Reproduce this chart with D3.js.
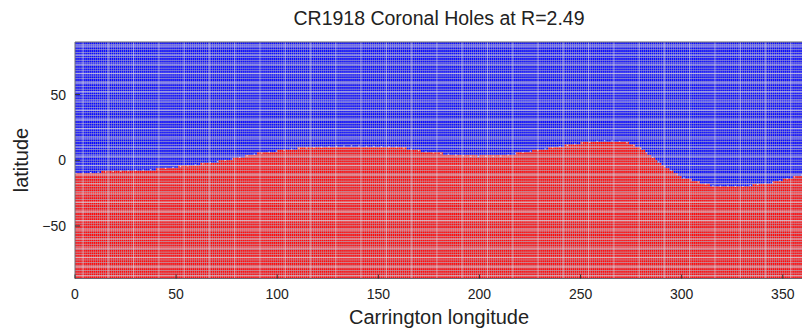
<!DOCTYPE html>
<html><head><meta charset="utf-8">
<script src="https://cdn.jsdelivr.net/npm/d3@7"></script>
<style>
body{margin:0;background:#fff;}
svg{display:block;font-family:"Liberation Sans",Arial,sans-serif;}
</style></head>
<body><svg id="c" width="802" height="333"></svg>
<script>
// Neutral-line (polarity boundary) latitude, by Carrington longitude
const boundaryLon = [0, 20, 40, 60, 75, 90, 110, 135, 160, 175, 195, 210, 230, 250, 262, 272, 280, 290, 300, 315, 330, 345, 360];
const boundaryLat = [-10, -8.5, -7, -3.5, 0, 5, 9, 11, 10, 6, 3, 3, 8, 13, 15, 14, 9, -3, -13, -19.5, -20, -17, -11];
const xTicks = [0, 50, 100, 150, 200, 250, 300, 350];
const yTicks = [-50, 0, 50];
const colors = {positive: "#0a0aff", negative: "#ff0a0a"}; // blue above, red below

const svg = d3.select("#c");
const m = {l: 75, r: 803, t: 42, b: 278.5};
const x = d3.scaleLinear().domain([0, 360]).range([m.l, m.r]);
const y = d3.scaleLinear().domain([-90, 90]).range([m.b, m.t]);
const bnd = d3.scaleLinear().domain(boundaryLon).range(boundaryLat);

svg.append("clipPath").attr("id", "pc").append("rect")
  .attr("x", m.l).attr("y", m.t).attr("width", m.r - m.l).attr("height", m.b - m.t);
const g = svg.append("g").attr("clip-path", "url(#pc)");
g.append("rect").attr("x", m.l).attr("y", m.t).attr("width", m.r - m.l).attr("height", m.b - m.t)
  .attr("fill", "#b4b2c4");

const lonStep = 1, latStep = 2;
const cells = [];
for (let lon = 0; lon < 360; lon += lonStep)
  for (let lat = -90; lat < 90; lat += latStep)
    cells.push({lon, lat, p: (lat + latStep / 2) > bnd(lon + lonStep / 2) ? "positive" : "negative"});
const cw = x(lonStep) - x(0), ch = y(0) - y(latStep);
g.selectAll("rect.cell").data(cells).join("rect").attr("class", "cell")
  .attr("x", d => x(d.lon) + 0.2).attr("y", d => y(d.lat + latStep) + 0.15)
  .attr("width", cw * 0.8).attr("height", ch * 0.78)
  .attr("fill", d => colors[d.p]);

// faint lighter lines (texture)
g.selectAll("line.v").data(d3.range(0, 361, 12.5)).join("line").attr("class", "v")
  .attr("x1", d => x(d) + 8).attr("x2", d => x(d) + 8).attr("y1", m.t).attr("y2", m.b)
  .attr("stroke", "#e6e3ee").attr("stroke-width", 1.2).attr("opacity", 0.45);
g.selectAll("line.h").data(d3.range(-88, 91, 7)).join("line").attr("class", "h")
  .attr("y1", d => y(d)).attr("y2", d => y(d)).attr("x1", m.l).attr("x2", m.r)
  .attr("stroke", "#e6e3ee").attr("stroke-width", 1.4).attr("opacity", 0.5);

// boundary light dots
g.append("path").datum(d3.range(0, 361, 1))
  .attr("d", d3.line().x(d => x(d)).y(d => y(bnd(d))).curve(d3.curveBasis))
  .attr("fill", "none").attr("stroke", "#e8e0ea").attr("stroke-width", 1.2)
  .attr("stroke-dasharray", "1.5,6").attr("opacity", 0.8);

// frame
svg.append("path").attr("d", `M${m.r},${m.t}H${m.l}V${m.b}H${m.r}`)
  .attr("fill", "none").attr("stroke", "#6a6a72").attr("stroke-width", 1);

// ticks
svg.selectAll("line.xt").data(xTicks).join("line").attr("class", "xt")
  .attr("x1", d => x(d)).attr("x2", d => x(d)).attr("y1", m.b).attr("y2", m.b - 4)
  .attr("stroke", "#333");
svg.selectAll("line.yt").data(yTicks).join("line").attr("class", "yt")
  .attr("x1", m.l).attr("x2", m.l + 5).attr("y1", d => y(d)).attr("y2", d => y(d))
  .attr("stroke", "#333");
svg.selectAll("text.xl").data(xTicks).join("text").attr("class", "xl")
  .attr("x", d => x(d)).attr("y", 299).attr("text-anchor", "middle")
  .attr("font-size", 14).attr("fill", "#222").text(d => d);
svg.selectAll("text.yl").data(yTicks).join("text").attr("class", "yl")
  .attr("x", 66).attr("y", d => y(d) + 5).attr("text-anchor", "end")
  .attr("font-size", 14).attr("fill", "#222").text(d => d < 0 ? "\u2212" + Math.abs(d) : d);

svg.append("text").attr("x", 439).attr("y", 25).attr("text-anchor", "middle")
  .attr("font-size", 19.5).attr("fill", "#222").text("CR1918 Coronal Holes at R=2.49");
svg.append("text").attr("x", 439).attr("y", 324).attr("text-anchor", "middle")
  .attr("font-size", 20).attr("fill", "#222").text("Carrington longitude");
svg.append("text").attr("transform", "translate(28,160) rotate(-90)").attr("text-anchor", "middle")
  .attr("font-size", 20).attr("fill", "#222").text("latitude");
</script></body></html>
